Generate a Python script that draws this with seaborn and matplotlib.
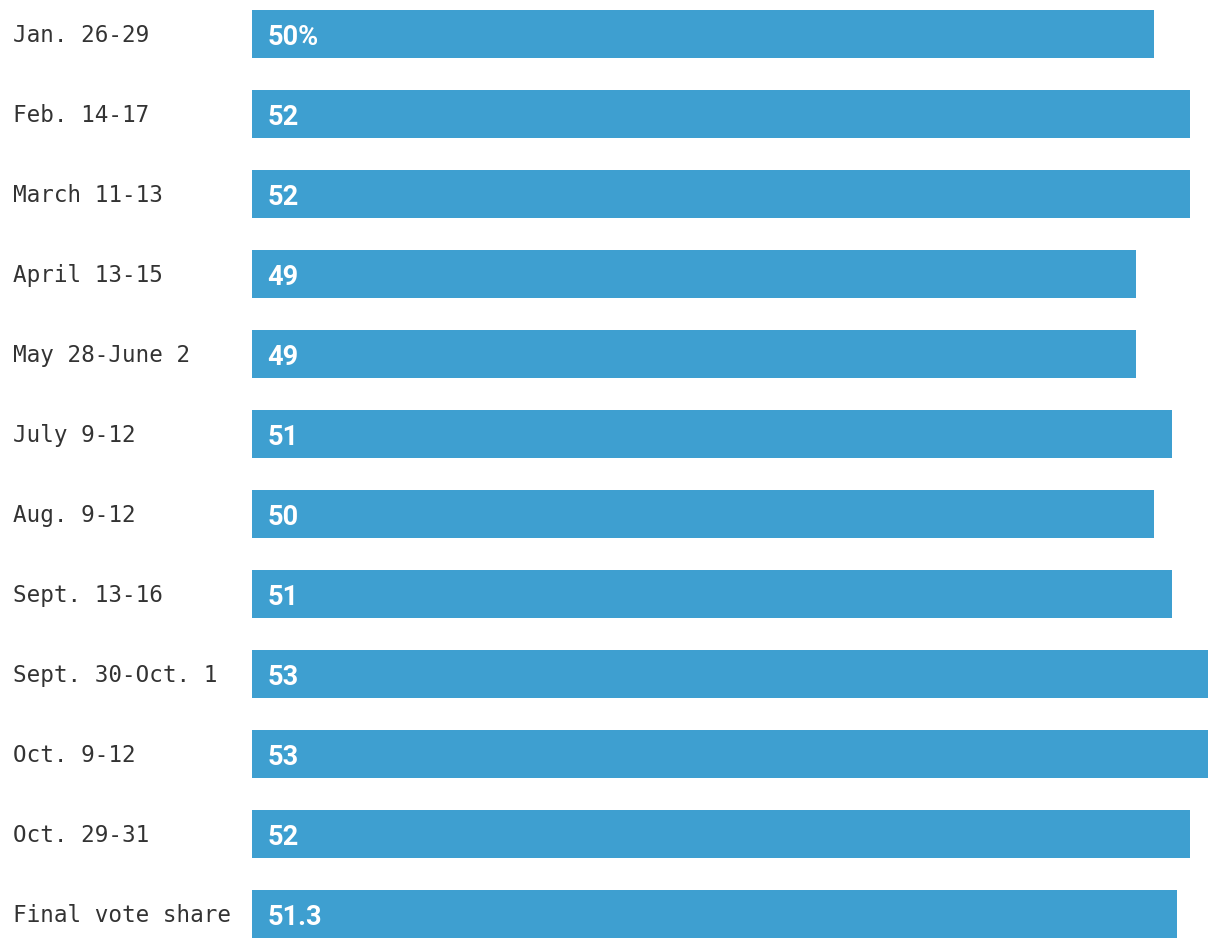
import pandas as pd
import matplotlib.pyplot as plt
import seaborn as sns

# Poll dates and share of the vote
polls = [
    "Jan. 26-29", "Feb. 14-17", "March 11-13", "April 13-15",
    "May 28-June 2", "July 9-12", "Aug. 9-12", "Sept. 13-16",
    "Sept. 30-Oct. 1", "Oct. 9-12", "Oct. 29-31", "Final vote share",
]
shares = [50, 52, 52, 49, 49, 51, 50, 51, 53, 53, 52, 51.3]
value_labels = ["50%", "52", "52", "49", "49", "51", "50", "51", "53", "53", "52", "51.3"]

df = pd.DataFrame({"poll": polls, "share": shares})

sns.set_style("white")

fig = plt.figure(figsize=(12.2, 9.48), dpi=100)
ax = fig.add_axes([252 / 1220, 0, 956 / 1220, 1])

sns.barplot(
    data=df,
    y="poll",
    x="share",
    orient="h",
    color="#3e9fd0",
    saturation=1,
    width=0.6,
    linewidth=0,
    ax=ax,
)

ax.set_xlim(0, 53)
ax.set_ylim(11.425, -0.425)
ax.set_xlabel("")
ax.set_ylabel("")
ax.set_xticks([])
ax.set_yticks([])
sns.despine(ax=ax, left=True, bottom=True)

# Poll labels on the left
for i, name in enumerate(polls):
    fig.text(
        13 / 1220, 1 - (34 + 80 * i + 1.5) / 948, name,
        ha="left", va="center", fontsize=16.3,
        family=["DejaVu Sans Mono"], color="#333333",
    )

# Values inside the bars
for i, lab in enumerate(value_labels):
    ax.text(
        0.85, i + 0.04, lab,
        ha="left", va="center", fontsize=19.5, fontweight="bold",
        family=["Roboto", "DejaVu Sans"],
        color="white",
    )

fig.savefig("out.png", dpi=100)
